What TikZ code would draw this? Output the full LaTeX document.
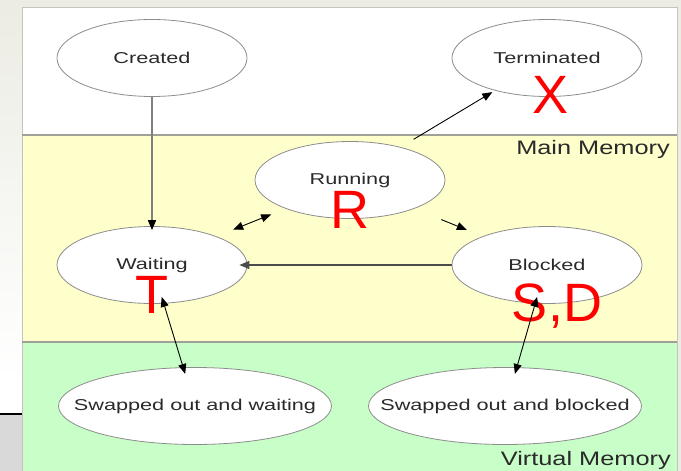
\documentclass[tikz,border=0pt]{standalone}
\usepackage{fontspec}
\usepackage{graphicx}
\setmainfont{Liberation Sans}
\usetikzlibrary{shapes.geometric,arrows.meta}

\definecolor{pagegray}{HTML}{ECECE4}
\definecolor{footgray}{HTML}{D9D9D9}
\definecolor{bandyellow}{HTML}{FFFFCC}
\definecolor{bandgreen}{HTML}{C8FFC8}
\definecolor{divider}{HTML}{A0A098}
\definecolor{framegray}{HTML}{C4C4BC}
\definecolor{rimgray}{HTML}{8C8C8C}
\definecolor{inkgray}{HTML}{2A2A2A}
\definecolor{markred}{HTML}{FF0000}

% wide sans labels, stretched horizontally; state labels take no room
% so that the ellipse size is set by the minimum dimensions alone
\newcommand\statelabel[1]{\makebox[0pt]{\scalebox{1.38}[1]{\fontsize{15.7}{18}\selectfont #1}}}
\newcommand\zonelabel[1]{\scalebox{1.3}[1]{\fontsize{19.5}{22}\selectfont #1}}

\tikzset{
  state/.style={ellipse, draw=rimgray, line width=0.8pt, fill=white,
    minimum width=190pt, minimum height=77pt, inner sep=0pt, text=inkgray},
  widestate/.style={state, minimum width=273pt},
  zone/.style={anchor=base east, inner sep=0pt, text=inkgray},
  redmark/.style={anchor=base, inner sep=0pt, text=markred,
    font=\fontsize{54}{60}\selectfont},
  arr/.style={-{Triangle[length=10pt,width=8pt]}, line width=0.9pt, draw=black},
  biarr/.style={{Triangle[length=10pt,width=8pt]}-{Triangle[length=10pt,width=8pt]},
    line width=0.9pt, draw=black},
}

\begin{document}
\begin{tikzpicture}[x=1pt,y=-1pt]
\useasboundingbox (0,0) rectangle (681,471);

% surrounding page
\fill[pagegray] (0,0) rectangle (681,471);
\shade[top color=pagegray, bottom color=white] (0,7) rectangle (22,380);
\fill[white] (0,380) rectangle (22,414);
\fill[footgray] (0,414) rectangle (22,471);
\draw[black, line width=1.8pt] (0,414) -- (22,414);

% memory bands
\fill[white] (22,7) rectangle (677,135);
\fill[bandyellow] (22,135) rectangle (677,342);
\fill[bandgreen] (22,342) rectangle (677,471);
\draw[framegray, line width=0.8pt] (22,471) -- (22,7) -- (677,7) -- (677,471);
\draw[divider, line width=1.4pt] (22,135) -- (677,135);
\draw[divider, line width=1.4pt] (22,342) -- (677,342);

\node[zone] (mainmem) at (670,154) {\zonelabel{Main Memory}};
\node[zone] (virtmem) at (671,465) {\zonelabel{Virtual Memory}};

% process states
\node[state] (created) at (152,58) {\statelabel{Created}};
\node[state] (term) at (547,58) {\statelabel{Terminated}};
\node[state] (run) at (350,180) {\statelabel{Running}};
\node[state] (wait) at (152,265) {\statelabel{Waiting}};
\node[state] (blk) at (547,265) {\statelabel{Blocked}};
\node[widestate] (sow) at (195,406) {\statelabel{Swapped out and waiting}};
\node[widestate] (sob) at (505,406) {\statelabel{Swapped out and blocked}};

% red state letters
\node[redmark] (lx) at (551,113) {X};
\node[redmark] (lr) at (350,228) {R};
\node[redmark] (lt) at (152,313) {T};
\node[redmark] (lsd) at (557,321) {S,D};

% transitions
\draw[-{Triangle[length=10pt,width=8pt,color=black]}, line width=1.8pt, draw=gray,
  shorten >=-4pt] (created.south) -- (wait.north);
\draw[arr, shorten <=15pt, shorten >=3pt] (run.33) -- (term.212);
\draw[biarr, shorten <=18pt, shorten >=15.5pt] (wait.24) -- (run.204);
\draw[arr, shorten <=29pt, shorten >=17pt] (run.-24) -- (blk.156);
\draw[arr, draw=black!70, line width=1.1pt, shorten >=-8pt] (blk.west) -- (wait.east);
\draw[biarr, shorten <=-7pt, shorten >=-7pt] (wait.-73) -- (sow.107);
\draw[biarr, shorten <=-7pt, shorten >=-7pt] (blk.-107) -- (sob.73);
\end{tikzpicture}
\end{document}
